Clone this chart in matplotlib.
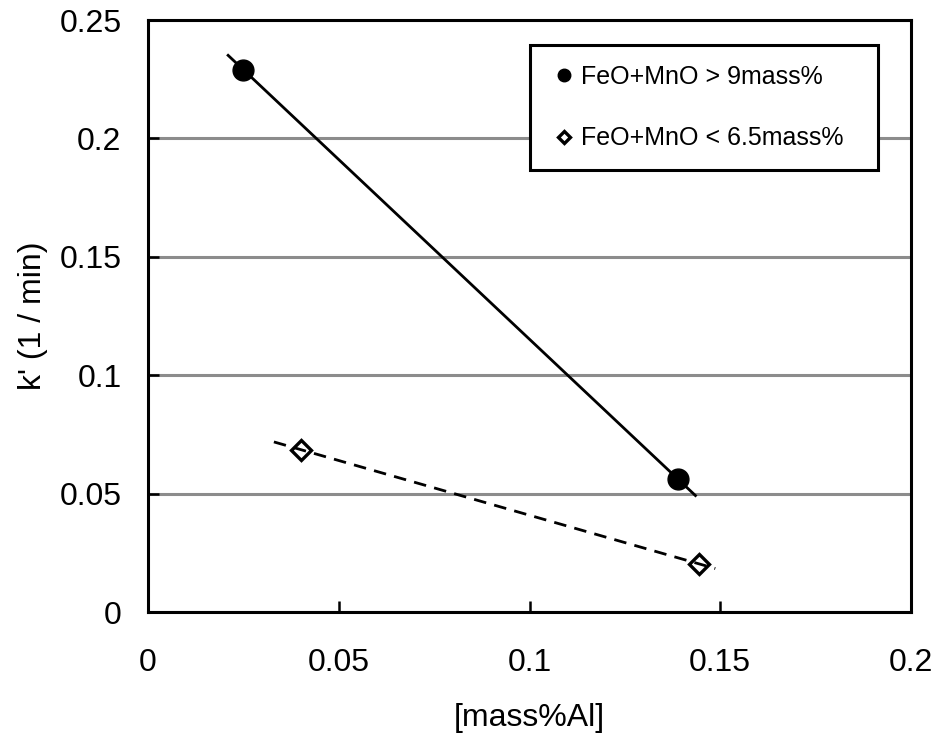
import numpy as np
import matplotlib
matplotlib.use("Agg")
import matplotlib.pyplot as plt

plt.rcParams['font.family'] = ['Liberation Sans', 'DejaVu Sans']

# FeO+MnO > 9 mass%
high_x = [0.025, 0.139]
high_y = [0.229, 0.056]
high_trend_x = [0.021, 0.1435]   # trendline extent
# FeO+MnO < 6.5 mass%
low_x = [0.0402, 0.1445]
low_y = [0.0685, 0.0203]
low_trend_x = [0.033, 0.1487]

xticks = [0, 0.05, 0.1, 0.15, 0.2]
xticklabels = ["0", "0.05", "0.1", "0.15", "0.2"]
yticks = [0, 0.05, 0.1, 0.15, 0.2, 0.25]
yticklabels = ["0", "0.05", "0.1", "0.15", "0.2", "0.25"]

fig = plt.figure(figsize=(9.37, 7.38), dpi=100)
ax = fig.add_axes([148/937, 1 - 612/738, (911-148)/937, (612-20)/738])

# linear trendlines
p = np.polyfit(high_x, high_y, 1)
tx = np.array(high_trend_x)
ax.plot(tx, np.polyval(p, tx), color='black', lw=2.0, zorder=4)
p2 = np.polyfit(low_x, low_y, 1)
tx2 = np.array(low_trend_x)
ax.plot(tx2, np.polyval(p2, tx2), color='black', lw=2.0, ls=(0, (4.5, 3)), zorder=4)

ax.plot(high_x, high_y, 'o', color='black', ms=15, ls='none', zorder=3,
        label='FeO+MnO > 9mass%')
ax.plot(low_x, low_y, 'D', mfc='white', mec='black', mew=2.4, ms=10.5, ls='none', zorder=3,
        label='FeO+MnO < 6.5mass%')

ax.set_xlim(0, 0.2)
ax.set_ylim(0, 0.25)
ax.set_xticks(xticks)
ax.set_xticklabels(xticklabels)
ax.set_yticks(yticks)
ax.set_yticklabels(yticklabels)
ax.tick_params(direction='in', length=8, width=1.8, labelsize=23)
ax.tick_params(axis='y', pad=19)
ax.tick_params(axis='x', pad=26)
ax.yaxis.grid(True, color='#8c8c8c', lw=2.2)
ax.set_axisbelow(True)
for s in ax.spines.values():
    s.set_linewidth(2.2)

ax.set_xlabel('[mass%Al]', fontsize=23, labelpad=18)
ax.set_ylabel("k' (1 / min)", fontsize=23, labelpad=8)

leg = ax.legend(loc='upper left', bbox_to_anchor=(0.5007, 0.958, 0.456, 0),
                mode='expand', borderaxespad=0, fontsize=18,
                markerscale=0.6, handlelength=1.1, handletextpad=0.15,
                labelspacing=1.5, borderpad=0.8, fancybox=False, framealpha=1,
                edgecolor='black')
leg.get_frame().set_linewidth(2.2)

fig.savefig('out.png', dpi=100)
